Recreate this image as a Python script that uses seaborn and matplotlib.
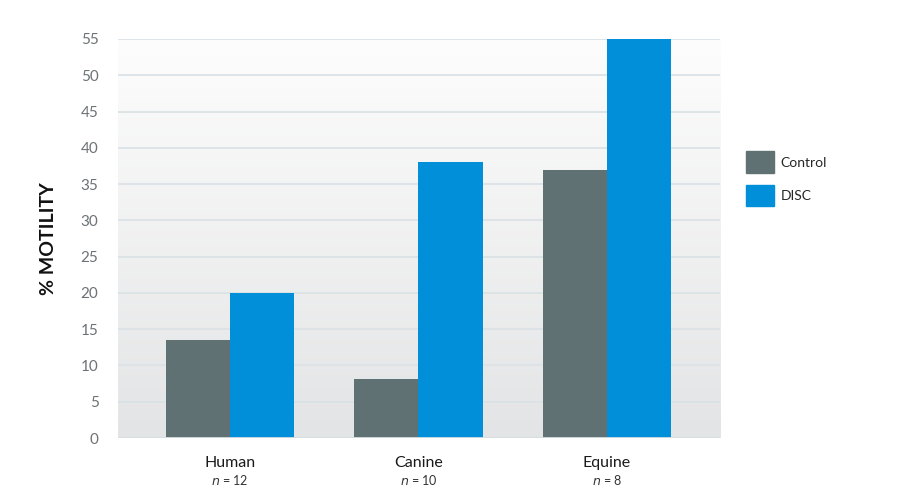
import numpy as np
import pandas as pd
import seaborn as sns
import matplotlib.pyplot as plt
from matplotlib.patches import Patch

species = ['Human', 'Canine', 'Equine']
sample_sizes = [12, 10, 8]
control = [13.5, 8.1, 37]
disc = [20, 38, 55]
y_ticks = list(range(0, 60, 5))

sns.set_style('white')
plt.rcParams['font.family'] = ['Lato', 'DejaVu Sans']

df = pd.DataFrame({
    'species': species * 2,
    'motility': control + disc,
    'group': ['Control'] * 3 + ['DISC'] * 3,
})
palette = {'Control': '#5f7173', 'DISC': '#008fd8'}

fig = plt.figure(figsize=(9, 4.96), dpi=100)
ax = fig.add_axes([0.1311, 0.1169, 0.6689, 0.8045])

# light grey gradient behind the bars
grad = np.linspace(0, 1, 256).reshape(-1, 1)
ax.imshow(grad, cmap=sns.blend_palette(['#e3e4e5', '#fdfdfd'], as_cmap=True),
          extent=[0, 1, 0, 1], transform=ax.transAxes, aspect='auto',
          zorder=0, origin='lower')

sns.barplot(data=df, x='species', y='motility', hue='group', palette=palette,
            width=0.68, saturation=1, linewidth=0, ax=ax, zorder=3, legend=False)

ax.set_xlim(-0.594, 2.6)
ax.set_ylim(0, 55)
ax.set_yticks(y_ticks)
ax.grid(axis='y', color='#dbe2e5', linewidth=1.3, zorder=1)
ax.set_axisbelow(True)
for s in ax.spines.values():
    s.set_visible(False)
ax.axhline(0, color='#d7dee1', linewidth=1.3, zorder=4)

ax.tick_params(axis='y', length=0, pad=14, labelsize=11, labelcolor='#6d7275')
ax.tick_params(axis='x', length=0, pad=13, labelsize=11.5, labelcolor='#1a1a1a')
ax.set_xticks(range(len(species)))
ax.set_xticklabels(species)
ax.set_xlabel('')
ax.set_ylabel('% MOTILITY', fontsize=14, fontweight='bold', color='#111111', labelpad=17)

trans = ax.get_xaxis_transform()
for i, n in enumerate(sample_sizes):
    ax.text(i, -0.088, f'$n$ = {n}', transform=trans, ha='center', va='top',
            fontsize=9, color='#333333')

handles = [Patch(color=palette[g]) for g in ['Control', 'DISC']]
fig.legend(handles, ['Control', 'DISC'], loc='upper left', bbox_to_anchor=(0.815, 0.72),
           frameon=False, fontsize=10, handlelength=2.0, handleheight=2.0,
           handletextpad=0.5, labelspacing=0.85)

fig.savefig('out.png', dpi=100)
